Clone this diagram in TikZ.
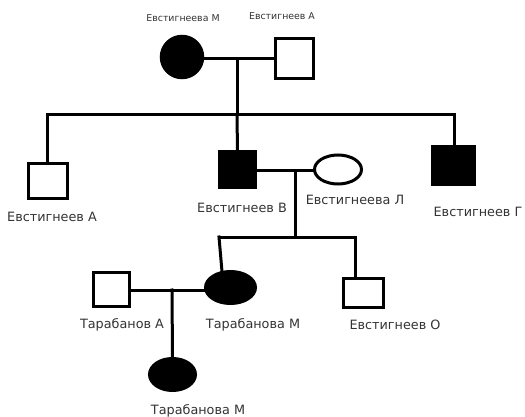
\documentclass[tikz,border=0pt]{standalone}
\usepackage{fontspec}
\setmainfont{DejaVu Sans}
\usetikzlibrary{shapes.geometric}
\pgfdeclarelayer{bg}
\pgfsetlayers{bg,main}
\tikzset{
  lw/.style={line width=3pt},
  sq/.style={draw=black, lw, fill=white, rectangle, inner sep=0pt, outer sep=0pt},
  fsq/.style={draw=black, lw, fill=black, rectangle, inner sep=0pt, outer sep=0pt},
  el/.style={draw=black, lw, fill=white, ellipse, inner sep=0pt, outer sep=0pt},
  fel/.style={draw=black, lw, fill=black, ellipse, inner sep=0pt, outer sep=0pt},
  lab/.style={text=black!80, inner sep=0pt, font=\fontsize{12.8}{15}\selectfont},
  slab/.style={text=black!80, inner sep=0pt, font=\fontsize{9.4}{11}\selectfont},
  link/.style={draw=black, lw, line cap=rect},
}
\begin{document}
\begin{tikzpicture}[x=1pt,y=-1pt]
\useasboundingbox (0,0) rectangle (525,417);
% generation I
\node[fel, minimum width=41.5pt, minimum height=41.5pt] (m1) at (182,57) {};
\node[sq, minimum width=38pt, minimum height=40pt] (a1) at (294.5,58.5) {};
\coordinate (c1) at (237,59);
\coordinate (s1) at (237,115);
\coordinate (s1l) at (47,115);
\coordinate (s1r) at (454,115);
% generation II
\node[sq, minimum width=39pt, minimum height=35pt] (a2) at (48,181) {};
\node[fsq, minimum width=36pt, minimum height=36pt] (b2) at (237.5,169.5) {};
\node[el, minimum width=47pt, minimum height=29pt] (l2) at (338,169.5) {};
\node[fsq, minimum width=42pt, minimum height=38pt] (g2) at (453.5,165.5) {};
\coordinate (c2) at (295,171);
\coordinate (s2) at (295,237);
\coordinate (s2l) at (219,237);
\coordinate (s2r) at (355,237);
% generation III
\node[sq, minimum width=36pt, minimum height=34pt] (ta3) at (111.5,289.5) {};
\node[fel, minimum width=50pt, minimum height=32pt] (t3) at (230.5,287.5) {};
\node[sq, minimum width=40pt, minimum height=29pt] (o3) at (363.5,293) {};
\coordinate (c3) at (172,290);
% generation IV
\node[fel, minimum width=46pt, minimum height=32pt] (tm4) at (172.5,374.5) {};

\begin{pgfonlayer}{bg}
\draw[link] (m1 |- c1) -- (a1.west |- c1);
\draw[link] (c1) -- (s1);
\draw[link] (s1l) -- (s1r);
\draw[link] (s1l) -- (s1l |- a2.north);
\draw[link] (s1) -- (b2.north);
\draw[link] (s1r) -- (s1r |- g2.north);
\draw[link] (b2.east |- c2) -- (l2.west |- c2);
\draw[link] (c2) -- (s2);
\draw[link] (s2l) -- (s2r);
\draw[link] (s2l) -- ([xshift=3pt]s2l |- t3.north);
\draw[link] (s2r) -- (s2r |- o3.north);
\draw[link] (ta3.east |- c3) -- (t3.west |- c3);
\draw[link] (c3) -- (tm4.north);
\end{pgfonlayer}

% labels
\node[slab] (lm1) at (183,18) {Евстигнеева М};
\node[slab] (la1) at (282,16) {Евстигнеев А};
\node[lab] (la2) at (52,217) {Евстигнеев А};
\node[lab] (lb2) at (242,208) {Евстигнеев В};
\node[lab] (ll2) at (355,200) {Евстигнеева Л};
\node[lab] (lg2) at (478,212) {Евстигнеев Г};
\node[lab] (lta3) at (122,325) {Тарабанов А};
\node[lab] (lt3) at (253,325) {Тарабанова М};
\node[lab] (lo3) at (395,325) {Евстигнеев О};
\node[lab] (ltm4) at (198,411) {Тарабанова М};
\end{tikzpicture}
\end{document}
